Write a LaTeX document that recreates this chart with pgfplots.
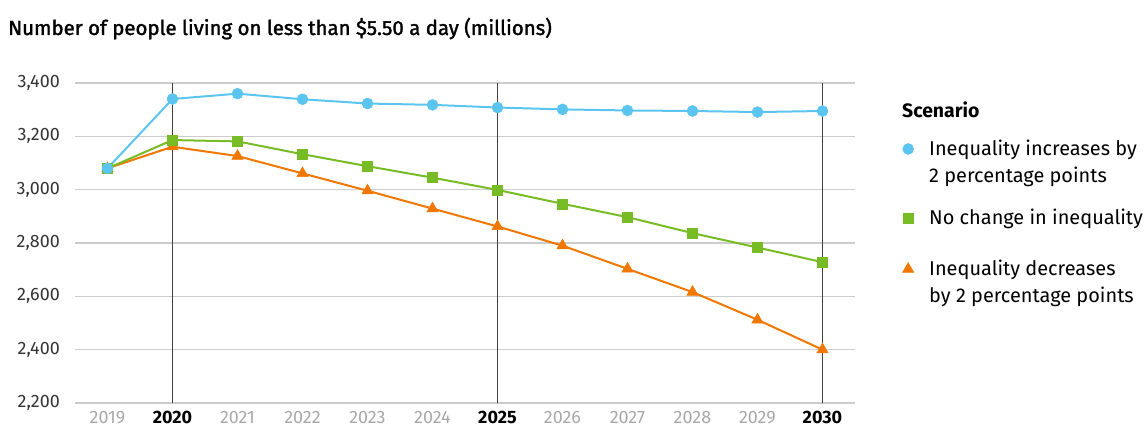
\documentclass[border=0pt]{standalone}
\usepackage{fontspec}
\setmainfont{Fira Sans}
\newfontfamily\medfont{Fira Sans}[FakeBold=1.6]
\usepackage{pgfplots}
\pgfplotsset{compat=1.18}

\definecolor{cblue}{RGB}{91,197,240}
\definecolor{cgreen}{RGB}{119,187,37}
\definecolor{corange}{RGB}{240,120,0}
\definecolor{gridgray}{RGB}{204,204,204}
\definecolor{lightlab}{RGB}{168,168,168}
\definecolor{darklab}{RGB}{51,51,51}

\newcommand{\yl}[1]{\textcolor{lightlab}{#1}}
\newcommand{\yb}[1]{\textbf{#1}}

% legend glyph: mark only, level with the first text line
\pgfplotsset{
    markimg/.style={legend image code/.code={
        \path[draw=none, fill=none] (0bp,0bp) -- (25bp,-#1);
        \draw[##1, only marks] plot coordinates {(6bp,-11.3bp)};
    }},
}

\begin{document}
\begin{tikzpicture}
\begin{axis}[
    at={(0,0)}, anchor=south west,
    scale only axis,
    width=780bp, height=320bp,
    xmin=2018.5, xmax=2030.5,
    ymin=2200, ymax=3400,
    xtick={2019,...,2030},
    xticklabels={\yl{2019},\yb{2020},\yl{2021},\yl{2022},\yl{2023},\yl{2024},\yb{2025},\yl{2026},\yl{2027},\yl{2028},\yl{2029},\yb{2030}},
    ytick={2200,2400,...,3400},
    axis line style={draw=none},
    major tick length=0pt,
    ymajorgrids=true,
    grid style={gridgray, line width=1.2bp},
    extra x ticks={2020,2025,2030},
    extra x tick labels={},
    extra x tick style={xmajorgrids=true, major grid style={draw=black!75, line width=1.3bp}},
    tick label style={font=\fontsize{18}{20}\selectfont, inner sep=0pt},
    yticklabel style={color=darklab},
    yticklabel shift=15bp,
    xticklabel shift=8bp,
    /pgf/number format/.cd, 1000 sep={,}, assume math mode=true,
    /pgfplots/.cd,
    reverse legend,
    legend style={at={(1,1)}, anchor=north west, xshift=44bp, yshift=-52.5bp,
        draw=none, fill=none, font=\fontsize{20}{27}\selectfont,
        row sep=21bp,
        cells={anchor=north west, align=left}},
    markimg=0bp,
]
\addplot[corange, line width=2bp, mark=triangle*, mark size=6.5bp, mark options={line width=0.5bp}]
coordinates {(2019,3080)(2020,3161)(2021,3126)(2022,3061)(2023,2996)(2024,2929)(2025,2862)(2026,2790)(2027,2703)(2028,2616)(2029,2512)(2030,2400)};
\addlegendentry{Inequality decreases\\by 2 percentage points}

\addplot[cgreen, line width=2bp, mark=square*, mark size=5bp, mark options={line width=0.5bp}, markimg=30bp]
coordinates {(2019,3080)(2020,3186)(2021,3181)(2022,3133)(2023,3088)(2024,3045)(2025,2999)(2026,2947)(2027,2897)(2028,2837)(2029,2783)(2030,2728)};
\addlegendentry{No change in inequality}

\addplot[cblue, line width=2bp, mark=*, mark size=5.5bp, mark options={line width=0.5bp}]
coordinates {(2019,3080)(2020,3340)(2021,3360)(2022,3339)(2023,3323)(2024,3318)(2025,3308)(2026,3301)(2027,3297)(2028,3295)(2029,3291)(2030,3295)};
\addlegendentry{Inequality increases by\\2 percentage points}
\end{axis}
\node[anchor=base west, inner sep=0pt, font=\medfont\fontsize{20.5}{24}\selectfont] at (-67bp,368bp)
    {Number of people living on less than \$5.50 a day (millions)};
\node[anchor=west, inner sep=0pt, font=\bfseries\fontsize{19.5}{22}\selectfont] at (827bp,293bp) {Scenario};
\pgfresetboundingbox
\path (-75bp,-25bp) rectangle (1071bp,403bp);
\end{tikzpicture}
\end{document}
